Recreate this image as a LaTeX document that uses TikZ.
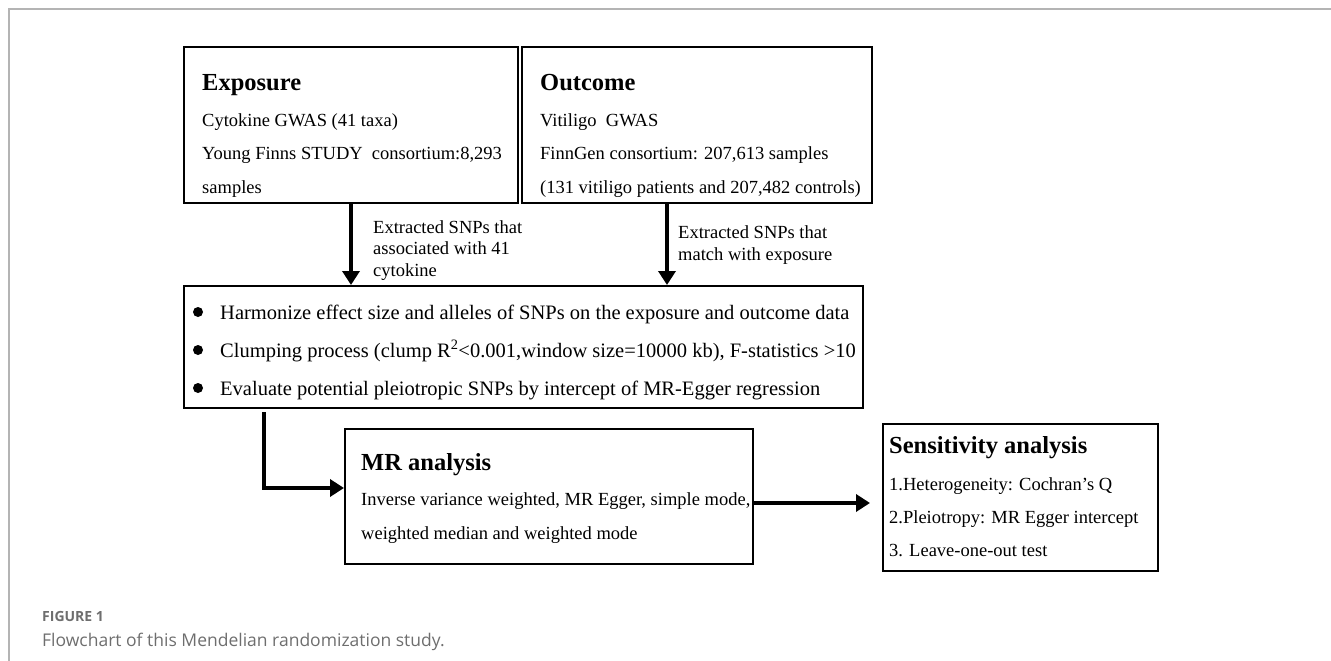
\documentclass[tikz,border=0pt]{standalone}
\usepackage{fontspec}
\setmainfont{Liberation Serif}
\newfontfamily\capfont{Open Sans}
\usetikzlibrary{arrows.meta}
\definecolor{framegray}{RGB}{180,180,180}
\definecolor{capgray}{RGB}{110,110,110}
\tikzset{
  box/.style={draw, line width=2pt, inner sep=0pt},
  hd/.style={anchor=base west, inner sep=0pt, font=\fontsize{24.5}{28}\selectfont\bfseries},
  txt/.style={anchor=base west, inner sep=0pt, font=\fontsize{18.5}{22}\selectfont},
  bigtxt/.style={txt, font=\fontsize{20.5}{24}\selectfont},
  flow/.style={line width=4pt, -{Triangle[length=14pt,width=17pt]}},
}
\begin{document}
\begin{tikzpicture}[x=1pt,y=-1pt]
\useasboundingbox (0,0) rectangle (1331,661);
\draw[line width=2pt, framegray] (1331,9) -- (9,9) -- (9,661);

% boxes
\node[box, minimum width=334pt, minimum height=156pt] (expo) at (351,125) {};
\node[box, minimum width=350pt, minimum height=156pt] (outc) at (697,125) {};
\node[box, minimum width=679pt, minimum height=122pt] (harm) at (523.5,347) {};
\node[box, minimum width=408pt, minimum height=135pt] (mr) at (549,496.5) {};
\node[box, minimum width=275pt, minimum height=147pt] (sens) at (1020.5,497.5) {};

% exposure
\node[hd] (expoT) at (202,90) {Exposure};
\node[txt] (expo1) at (202,126) {Cytokine GWAS (41 taxa)};
\node[txt] (expo2) at (202,159) {Young Finns STUDY\ \ consortium:8,293};
\node[txt] (expo3) at (202,193) {samples};

% outcome
\node[hd] (outcT) at (540,90) {Outcome};
\node[txt] (outc1) at (540,126) {Vitiligo\ \ GWAS};
\node[txt] (outc2) at (540,159) {FinnGen consortium: 207,613 samples};
\node[txt] (outc3) at (540,193) {(131 vitiligo patients and 207,482 controls)};

% arrow labels
\node[txt] (lab1) at (373,233) {Extracted SNPs that};
\node[txt] (lab2) at (373,254.5) {associated with 41};
\node[txt] (lab3) at (373,276) {cytokine};
\node[txt] (lab4) at (678,238) {Extracted SNPs that};
\node[txt] (lab5) at (678,260) {match with exposure};

% harmonise
\foreach \y in {312,350,388} \fill (198,\y) circle (5pt);
\node[bigtxt] (harm1) at (220,319) {Harmonize effect size and alleles of SNPs on the exposure and outcome data};
\node[bigtxt] (harm2) at (220,357) {Clumping process (clump R\textsuperscript{2}<0.001,window size=10000 kb), F-statistics >10};
\node[bigtxt] (harm3) at (220,395) {Evaluate potential pleiotropic SNPs by intercept of MR-Egger regression};

% mr
\node[hd] (mrT) at (361,470) {MR analysis};
\node[txt] (mr1) at (361,505) {Inverse variance weighted, MR Egger, simple mode,};
\node[txt] (mr2) at (361,539) {weighted median and weighted mode};

% sensitivity
\node[hd] (sensT) at (889,453) {Sensitivity analysis};
\node[txt] (sens1) at (889,490) {1.Heterogeneity: Cochran’s Q};
\node[txt] (sens2) at (889,523) {2.Pleiotropy: MR Egger intercept};
\node[txt] (sens3) at (889,556) {3. Leave-one-out test};

% connectors
\draw[flow] (expo.south) -- (expo.south |- harm.north);
\draw[flow] ([xshift=-30pt]outc.south) -- ([xshift=-30pt]outc.south |- harm.north);
\draw[flow, shorten <=3pt] ([xshift=-259.5pt]harm.south) |- ([yshift=8.5pt]mr.west);
\draw[flow, shorten >=12pt] ([yshift=-6.5pt]mr.east) -- ([yshift=-6.5pt]mr.east -| sens.west);

% caption
\node[anchor=base west, inner sep=0pt, font=\capfont\fontsize{14}{16}\selectfont\bfseries, text=capgray] (fig) at (42,621) {FIGURE 1};
\node[anchor=base west, inner sep=0pt, font=\capfont\fontsize{17.5}{20}\selectfont, text=capgray] (cap) at (42,646) {Flowchart of this Mendelian randomization study.};
\end{tikzpicture}
\end{document}
